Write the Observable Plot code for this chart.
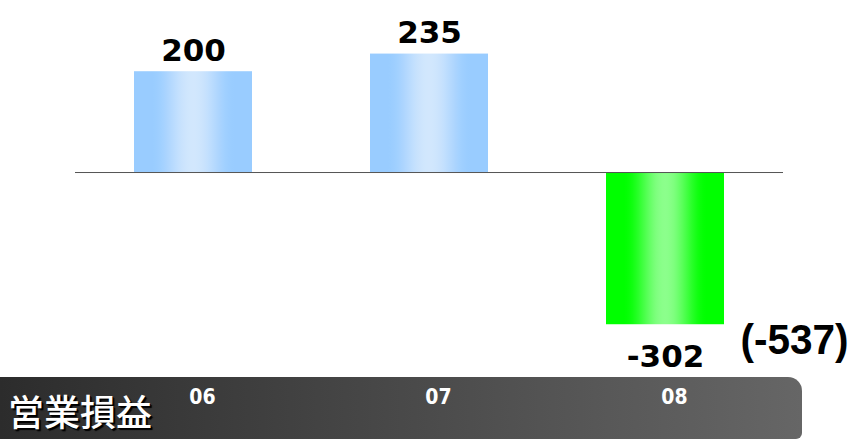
<!DOCTYPE html>
<html>
<head>
<meta charset="utf-8">
<script src="https://cdn.jsdelivr.net/npm/d3@7"></script>
<script src="https://cdn.jsdelivr.net/npm/@observablehq/plot@0.6"></script>
<style>
  html, body { margin: 0; padding: 0; background: #fff; }
  #wrap { position: relative; width: 854px; height: 439px; overflow: hidden; }
  #banner {
    position: absolute; left: 0; top: 377px; width: 802px; height: 62px;
    border-top-right-radius: 14px; border-bottom-right-radius: 6px;
    background: linear-gradient(to right, #2c2c2c, #666666);
  }
  #title {
    position: absolute; left: 8px; top: 392px; height: 36px;
    font-family: "Noto Sans CJK JP", "Noto Sans CJK SC", sans-serif;
    font-size: 36px; line-height: 36px; color: #fff; font-weight: 500;
    text-shadow: 2px 2px 1px #000, 1px 1px 0 #000;
  }
  #chart { position: absolute; left: 0; top: 0; }
  #chart svg { background: transparent !important; overflow: visible; }
  #chart svg g[aria-label="x-axis tick label"],
  #chart svg g[aria-label="x-axis tick label"] text {
    font-size: 21px !important;
    font-family: "DejaVu Sans Condensed", "DejaVu Sans", sans-serif !important;
    font-weight: bold !important;
    fill: #fff !important;
  }
</style>
</head>
<body>
<div id="wrap">
  <div id="banner"></div>
  <div id="chart"></div>
  <div id="title"></div>
</div>
<script>
// ---- data ----
const years = ["06", "07", "08"];
const values = [200, 235, -302];
const titleText = "営業損益";
const noteYears = ["08"];
const noteValues = [-302];
const noteTexts = ["(-537)"];

const data = years.map((year, i) => ({year, value: values[i]}));
const notes = noteYears.map((year, i) => ({year, value: noteValues[i], text: noteTexts[i]}));

document.getElementById("title").textContent = titleText;

const chart = Plot.plot({
  width: 854,
  height: 439,
  marginTop: 0,
  marginBottom: 62,
  marginLeft: 75,
  marginRight: 71,
  style: {background: "transparent"},
  x: {domain: years, paddingInner: 0.5, paddingOuter: 0.25, label: null},
  y: {domain: [-406.7, 341.3], axis: null},
  marks: [
    Plot.barY(data.filter(d => d.value >= 0), {x: "year", y: "value", fill: "url(#gradBlue)"}),
    Plot.barY(data.filter(d => d.value < 0), {x: "year", y: "value", fill: "url(#gradGreen)"}),
    Plot.ruleY([0], {stroke: "#555", strokeWidth: 1}),
    Plot.text(data.filter(d => d.value >= 0), {
      x: "year", y: "value", text: d => String(d.value),
      lineAnchor: "bottom", dy: -11,
      fontSize: 31, fontWeight: "bold", fontFamily: "DejaVu Sans", fill: "#000"
    }),
    Plot.text(data.filter(d => d.value < 0), {
      x: "year", y: "value", text: d => String(d.value),
      lineAnchor: "top", dy: 20,
      fontSize: 31, fontWeight: "bold", fontFamily: "DejaVu Sans", fill: "#000"
    }),
    Plot.text(notes, {
      x: "year", y: "value", text: "text", className: "note",
      textAnchor: "start", lineAnchor: "bottom", dx: 75, dy: 29,
      fontSize: 42, fontWeight: "bold", fontFamily: "Liberation Sans", fill: "#000"
    }),
    Plot.axisX({
      anchor: "bottom", tickSize: 0, tickPadding: 12, dx: 9,
      fill: "#fff", fontSize: 21, fontWeight: "bold",
      fontFamily: "DejaVu Sans Condensed", label: null
    })
  ]
});

const svg = d3.select(chart);
svg.selectAll("g.note text")
  .attr("textLength", 108)
  .attr("lengthAdjust", "spacingAndGlyphs");

const defs = svg.insert("defs", ":first-child");
function grad(id, edge, mid) {
  const g = defs.append("linearGradient").attr("id", id)
    .attr("x1", "0").attr("x2", "1").attr("y1", "0").attr("y2", "0");
  const mix = d3.interpolateRgb(edge, mid);
  for (let i = 0; i <= 40; i++) {
    const t = i / 40;
    const u = Math.abs(t - 0.5) / 0.36;
    const f = u >= 1 ? 0 : 0.5 * (1 + Math.cos(Math.PI * u));
    g.append("stop").attr("offset", t).attr("stop-color", mix(f));
  }
}
grad("gradBlue", "#99ccff", "#d2e7fd");
grad("gradGreen", "#00ff00", "#8cff8c");

document.getElementById("chart").appendChild(chart);
</script>
</body>
</html>
